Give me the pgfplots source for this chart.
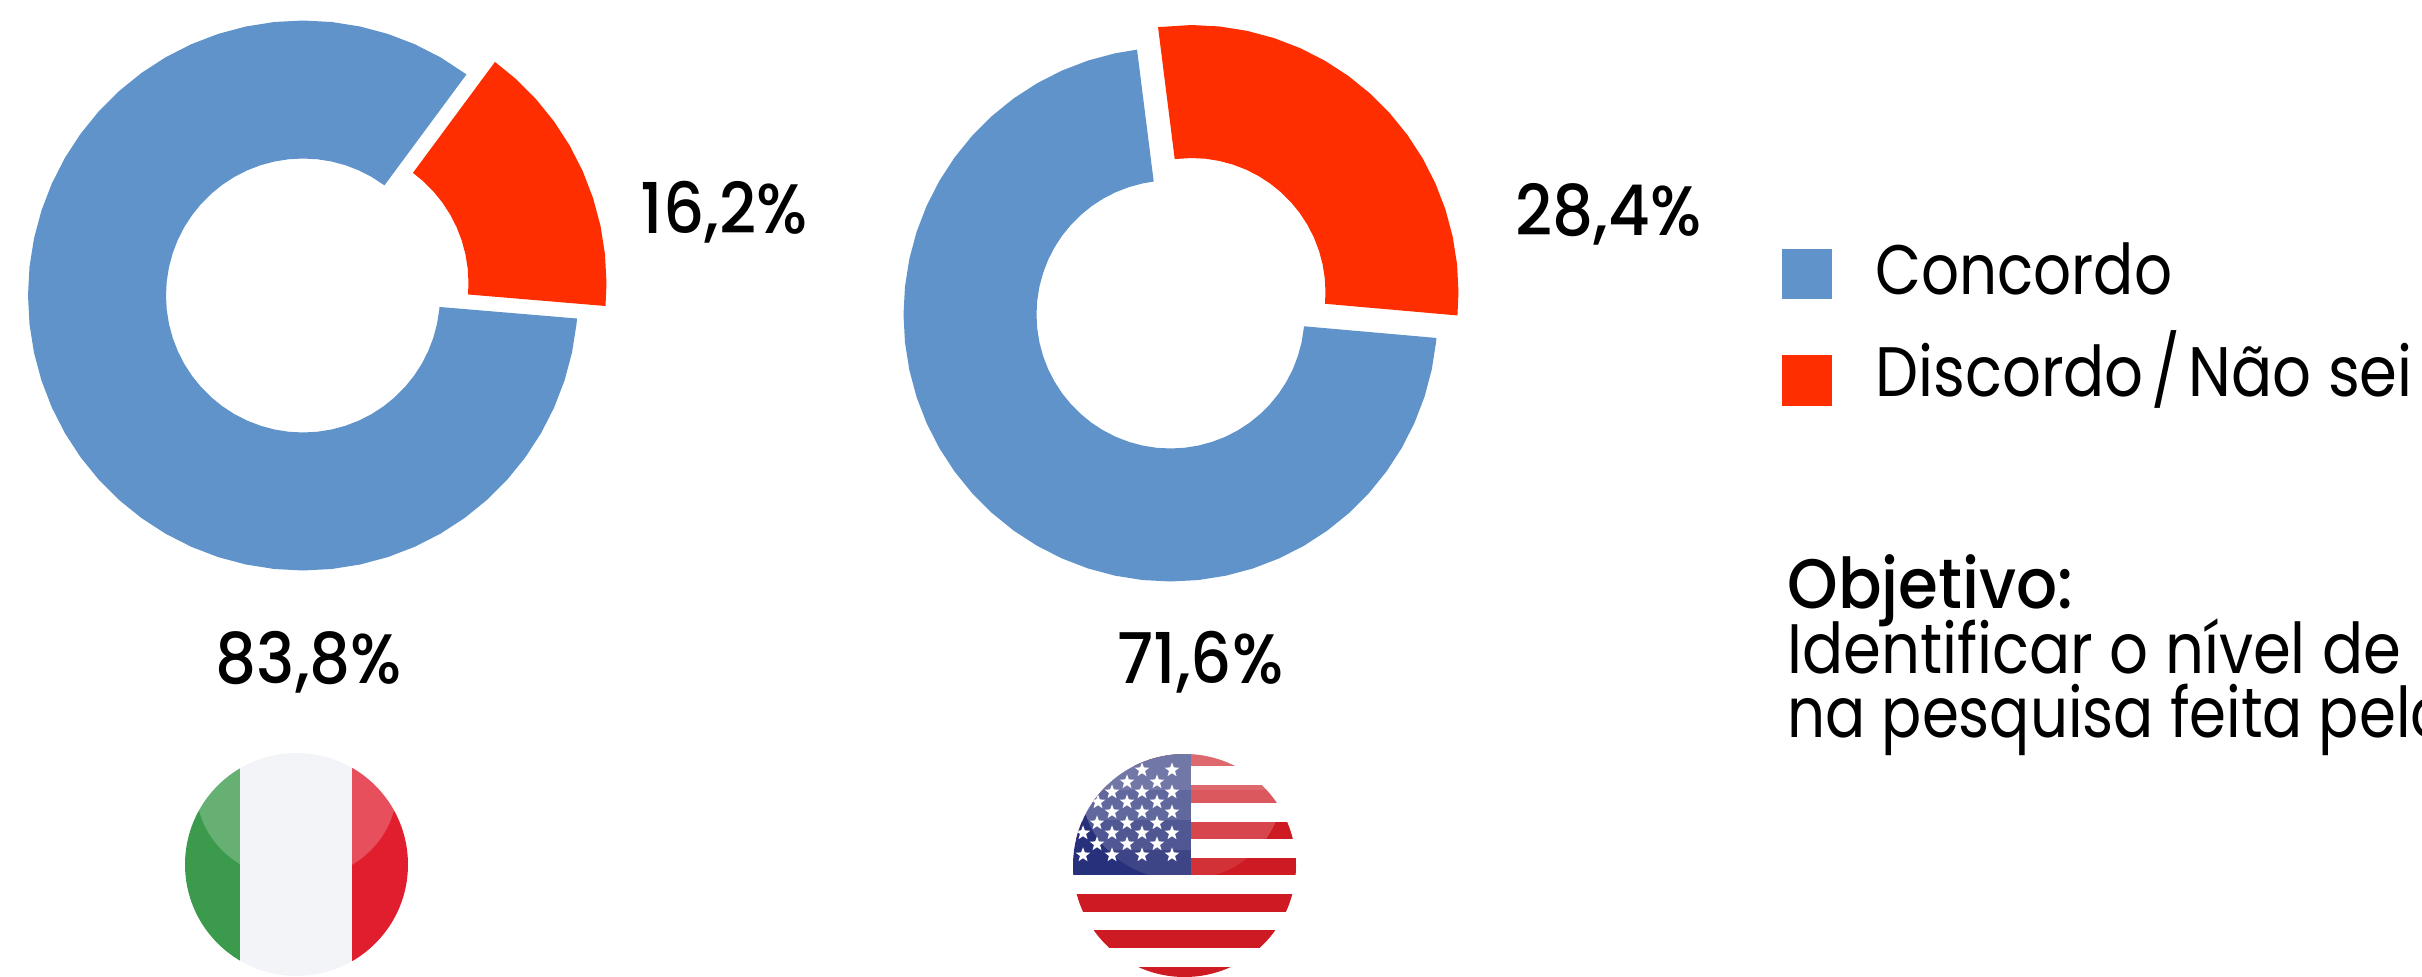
\documentclass[border=0pt]{standalone}
\usepackage{pgfplots}
\usepackage{pgfplotstable}
\usepackage{fontspec}
\pgfplotsset{compat=1.18}
\usetikzlibrary{shapes.geometric}
\setmainfont[FakeStretch=0.87]{Poppins}
\newfontfamily\narrowfont[FakeStretch=0.85]{Poppins}
\newfontfamily\valuefont[FakeStretch=0.92]{Poppins Medium}
\newfontfamily\headfont[FakeStretch=0.92]{Poppins Medium}
\definecolor{concordo}{HTML}{5F93C9}
\definecolor{discordo}{HTML}{FF2E00}
\definecolor{itgreen}{HTML}{3B9A4C}
\definecolor{itwhite}{HTML}{F3F4F8}
\definecolor{itred}{HTML}{E01E2E}
\definecolor{usred}{HTML}{CE1A22}
\definecolor{usblue}{HTML}{27307A}

% Slices as angle (degrees) and radius: outer rim, then inner rim back.
\pgfplotstableread[row sep=\\]{
a r \\
53.52 275\\ 60 275\\ 66 275\\ 72 275\\ 78 275\\ 84 275\\ 90 275\\ 96 275\\ 102 275\\ 108 275\\ 114 275\\ 120 275\\ 126 275\\ 132 275\\ 138 275\\ 144 275\\ 150 275\\ 156 275\\ 162 275\\ 168 275\\ 174 275\\ 180 275\\ 186 275\\ 192 275\\ 198 275\\ 204 275\\ 210 275\\ 216 275\\ 222 275\\ 228 275\\ 234 275\\ 240 275\\ 246 275\\ 252 275\\ 258 275\\ 264 275\\ 270 275\\ 276 275\\ 282 275\\ 288 275\\ 294 275\\ 300 275\\ 306 275\\ 312 275\\ 318 275\\ 324 275\\ 330 275\\ 336 275\\ 342 275\\ 348 275\\ 354 275\\ 355.2 275\\
355.2 137\\ 354 137\\ 348 137\\ 342 137\\ 336 137\\ 330 137\\ 324 137\\ 318 137\\ 312 137\\ 306 137\\ 300 137\\ 294 137\\ 288 137\\ 282 137\\ 276 137\\ 270 137\\ 264 137\\ 258 137\\ 252 137\\ 246 137\\ 240 137\\ 234 137\\ 228 137\\ 222 137\\ 216 137\\ 210 137\\ 204 137\\ 198 137\\ 192 137\\ 186 137\\ 180 137\\ 174 137\\ 168 137\\ 162 137\\ 156 137\\ 150 137\\ 144 137\\ 138 137\\ 132 137\\ 126 137\\ 120 137\\ 114 137\\ 108 137\\ 102 137\\ 96 137\\ 90 137\\ 84 137\\ 78 137\\ 72 137\\ 66 137\\ 60 137\\ 53.52 137\\
}\italyConcordo
\pgfplotstableread[row sep=\\]{
a r \\
-4.8 275\\ 0 275\\ 6 275\\ 12 275\\ 18 275\\ 24 275\\ 30 275\\ 36 275\\ 42 275\\ 48 275\\ 53.52 275\\
53.52 137\\ 48 137\\ 42 137\\ 36 137\\ 30 137\\ 24 137\\ 18 137\\ 12 137\\ 6 137\\ 0 137\\ -4.8 137\\
}\italyDiscordo
\pgfplotstableread[row sep=\\]{
a r \\
97.2 267\\ 102 267\\ 108 267\\ 114 267\\ 120 267\\ 126 267\\ 132 267\\ 138 267\\ 144 267\\ 150 267\\ 156 267\\ 162 267\\ 168 267\\ 174 267\\ 180 267\\ 186 267\\ 192 267\\ 198 267\\ 204 267\\ 210 267\\ 216 267\\ 222 267\\ 228 267\\ 234 267\\ 240 267\\ 246 267\\ 252 267\\ 258 267\\ 264 267\\ 270 267\\ 276 267\\ 282 267\\ 288 267\\ 294 267\\ 300 267\\ 306 267\\ 312 267\\ 318 267\\ 324 267\\ 330 267\\ 336 267\\ 342 267\\ 348 267\\ 354 267\\ 354.96 267\\
354.96 134\\ 354 134\\ 348 134\\ 342 134\\ 336 134\\ 330 134\\ 324 134\\ 318 134\\ 312 134\\ 306 134\\ 300 134\\ 294 134\\ 288 134\\ 282 134\\ 276 134\\ 270 134\\ 264 134\\ 258 134\\ 252 134\\ 246 134\\ 240 134\\ 234 134\\ 228 134\\ 222 134\\ 216 134\\ 210 134\\ 204 134\\ 198 134\\ 192 134\\ 186 134\\ 180 134\\ 174 134\\ 168 134\\ 162 134\\ 156 134\\ 150 134\\ 144 134\\ 138 134\\ 132 134\\ 126 134\\ 120 134\\ 114 134\\ 108 134\\ 102 134\\ 97.2 134\\
}\usaConcordo
\pgfplotstableread[row sep=\\]{
a r \\
-5.04 267\\ 0 267\\ 6 267\\ 12 267\\ 18 267\\ 24 267\\ 30 267\\ 36 267\\ 42 267\\ 48 267\\ 54 267\\ 60 267\\ 66 267\\ 72 267\\ 78 267\\ 84 267\\ 90 267\\ 97.2 267\\
97.2 134\\ 90 134\\ 84 134\\ 78 134\\ 72 134\\ 66 134\\ 60 134\\ 54 134\\ 48 134\\ 42 134\\ 36 134\\ 30 134\\ 24 134\\ 18 134\\ 12 134\\ 6 134\\ 0 134\\ -5.04 134\\
}\usaDiscordo

\newcommand{\fsize}[1]{\fontsize{#1}{#1}\selectfont}
% One ring slice: plot options, centre x, centre y, table
\newcommand{\slice}[4]{%
  \addplot[draw=none,#1] table[x expr={#2+\thisrow{r}*cos(\thisrow{a})},y expr={#3-\thisrow{r}*sin(\thisrow{a})}] {#4};}

\begin{document}
\begin{tikzpicture}
\clip (0,0) rectangle (726.6pt,292.8pt);
\path[use as bounding box] (0,0) rectangle (726.6pt,292.8pt);
\begin{axis}[
  at={(0,0)},anchor=south west,
  width=726.6pt,height=292.8pt,scale only axis,
  xmin=0,xmax=2422,ymin=0,ymax=976,y dir=reverse,
  hide axis,clip=false,
  legend style={at={(axis cs:1782,244.5)},anchor=north west,draw=none,fill=none,
    inner sep=0pt,outer sep=0pt,row sep=0pt,font=\fsize{21},
    nodes={inner sep=0pt,text height=15pt,text depth=15.6pt}},
  legend cell align=left,
]
\slice{fill=concordo,legend image code/.code={\path[fill=none,draw=none] (0pt,-14pt) rectangle (28pt,14pt);\fill[concordo] (0pt,-0.9pt) rectangle (15pt,14.1pt);}}{303}{295.5}{\italyConcordo}
\addlegendentry{\narrowfont Concordo}
\slice{fill=discordo,legend image code/.code={\path[fill=none,draw=none] (0pt,-14pt) rectangle (28pt,14pt);\fill[discordo] (0pt,-2.4pt) rectangle (15pt,12.9pt);}}{331.5}{283}{\italyDiscordo}
\addlegendentry{Discordo\kern2.4pt/\kern2.4pt Não sei}
\slice{fill=concordo,forget plot}{1170.5}{314.5}{\usaConcordo}
\slice{fill=discordo,forget plot}{1191.5}{292}{\usaDiscordo}

\node[anchor=base west,inner sep=0pt,font=\valuefont\fsize{21}] at (axis cs:640,233) {16,2\%};
\node[anchor=base west,inner sep=0pt,font=\valuefont\fsize{21}] at (axis cs:1515,235) {28,4\%};
\node[anchor=base west,inner sep=0pt,font=\valuefont\fsize{21}] at (axis cs:215,683) {83,8\%};
\node[anchor=base west,inner sep=0pt,font=\valuefont\fsize{21}] at (axis cs:1117,683) {71,6\%};
\node[anchor=base west,inner sep=0pt,font=\headfont\fsize{21}] at (axis cs:1787,608) {Objetivo:};
\node[anchor=base west,inner sep=0pt,font=\fsize{21}] at (axis cs:1787,673) {Identificar o nível de};
\node[anchor=base west,inner sep=0pt,font=\narrowfont\fsize{21}] at (axis cs:1787,737) {na pesquisa feita pelo};
\end{axis}

% Round flag badges below the two rings
\begin{scope}[shift={(0,292.8pt)},x=0.3pt,y=-0.3pt]
  \begin{scope}
    \clip (296.5,864.5) circle (33.45pt);
    \fill[itgreen] (180,750) rectangle (240,980);
    \fill[itwhite] (240,750) rectangle (352,980);
    \fill[itred] (352,750) rectangle (412,980);
    \begin{scope}
      \clip (296.5,790) ellipse (30pt and 27pt);
      \fill[white,opacity=.22] (180,750) rectangle (240,880);
      \fill[white,opacity=.22] (352,750) rectangle (412,880);
    \end{scope}
  \end{scope}
  \begin{scope}
    \clip (1184.5,865.5) circle (33.45pt);
    \fill[white] (1070,750) rectangle (1300,980);
    \foreach \ya/\yb in {754/766,785/803,822/839,858/875,894/912,930/948,967/980}
      \fill[usred] (1070,\ya) rectangle (1300,\yb);
    \fill[usblue] (1070,750) rectangle (1191,875);
    \foreach \sx/\sy in {1142/770,1172/770,1127/782,1157/782,1112/792,1142/792,1172/792,
      1098/802,1127/802,1157/802,1112/812,1142/812,1172/812,1097/823,1127/823,1157/823,
      1083/833,1112/833,1142/833,1172/833,1097/844,1127/844,1157/844,
      1083/855,1112/855,1142/855,1172/855}
      \node[star,star points=5,star point ratio=2.4,fill=white,draw=none,inner sep=0pt,minimum size=4.6pt] at (\sx,\sy) {};
    \begin{scope}
      \clip (1182,790) ellipse (30pt and 27pt);
      \fill[white,opacity=.10] (1070,750) rectangle (1300,880);
      \fill[white,opacity=.10] (1070,750) rectangle (1300,850);
      \fill[white,opacity=.10] (1070,750) rectangle (1300,820);
      \fill[white,opacity=.10] (1070,750) rectangle (1300,790);
    \end{scope}
  \end{scope}
\end{scope}
\end{tikzpicture}
\end{document}
